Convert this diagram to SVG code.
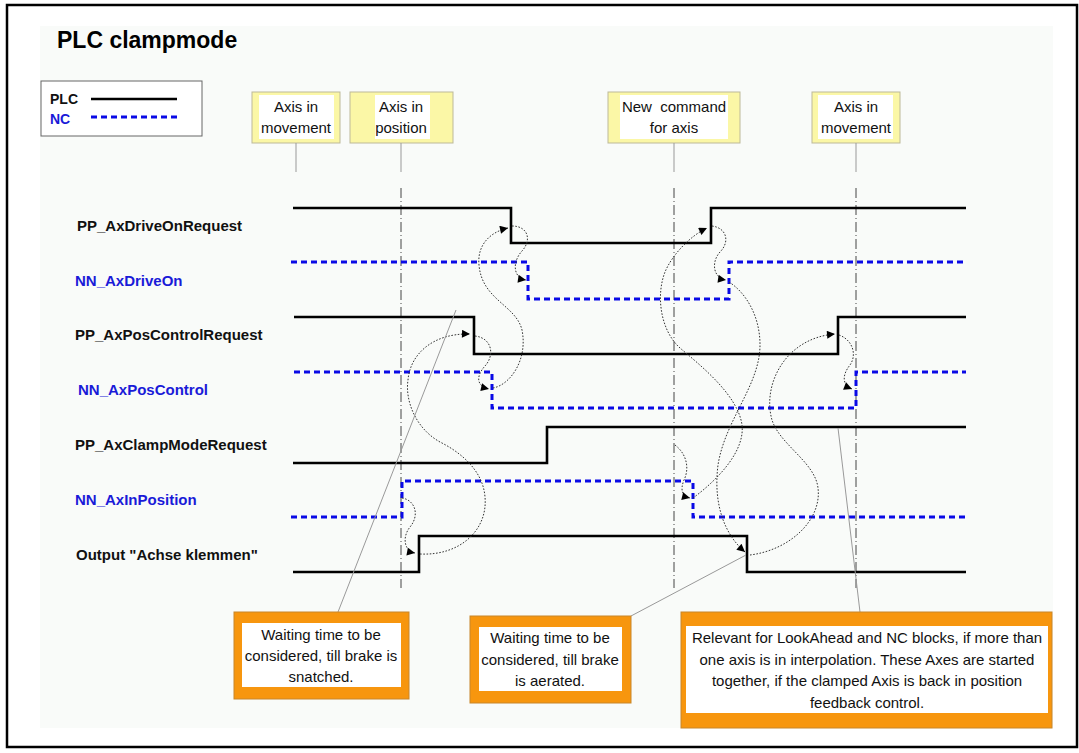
<svg xmlns="http://www.w3.org/2000/svg" width="1079" height="753" viewBox="0 0 1079 753">
  <style>
    text { font-family: "Liberation Sans", Arial, sans-serif; }
    .title { font-size: 23px; font-weight: bold; fill: #000; }
    .sig { font-size: 15px; font-weight: bold; fill: #111; }
    .sig-nc { font-size: 15px; font-weight: bold; fill: #1a1ad8; }
    .note { font-size: 15px; fill: #111; text-anchor: middle; }
    .plc { fill: none; stroke: #000; stroke-width: 2.6; }
    .nc { fill: none; stroke: #0a0ae6; stroke-width: 3; stroke-dasharray: 6 4; }
    .cause { fill: none; stroke: #333; stroke-width: 1; stroke-dasharray: 1.6 1.6; marker-end: url(#arrow); }
    .guide { fill: none; stroke: #444; stroke-width: 1; stroke-dasharray: 10 3 1 3; }
    .leader { fill: none; stroke: #999; stroke-width: 1; }
    .yel { fill: #fbf7a6; stroke: #bdb99a; stroke-width: 1; }
    .org { fill: #f7960e; stroke: #c8862a; stroke-width: 1; }
    .inner { fill: #fff; }
  </style>
  <defs>
    <marker id="arrow" viewBox="0 0 10 10" refX="10" refY="5" markerWidth="10" markerHeight="8" markerUnits="userSpaceOnUse" orient="auto">
      <path d="M0,0 L10,5 L0,10 z" fill="#000"/>
    </marker>
  </defs>

  <!-- frame and page -->
  <rect x="0" y="0" width="1079" height="753" fill="#fff"/>
  <rect x="7" y="5" width="1070" height="742" fill="#fff" stroke="#000" stroke-width="2.5"/>
  <rect x="40" y="26" width="1013" height="702" fill="#f9fbf9"/>

  <text class="title" x="57" y="48">PLC clampmode</text>

  <!-- legend -->
  <g id="legend">
    <rect x="41" y="81" width="161" height="55" fill="#fff" stroke="#666" stroke-width="1"/>
    <text class="sig" x="50" y="104" style="font-size:14px">PLC</text>
    <line class="plc" x1="91" y1="99" x2="177" y2="99"/>
    <text class="sig-nc" x="50" y="124" style="font-size:14px">NC</text>
    <line class="nc" x1="91" y1="117" x2="180" y2="117"/>
  </g>

  <!-- event callouts -->
  <g id="ev-movement1">
    <rect class="yel" x="252" y="92" width="88" height="51"/>
    <rect class="inner" x="259" y="95" width="75" height="44"/>
    <text class="note" x="296" y="112">Axis in</text>
    <text class="note" x="296" y="133">movement</text>
    <line class="leader" x1="296" y1="143" x2="296" y2="172"/>
  </g>
  <g id="ev-position">
    <rect class="yel" x="350" y="92" width="103" height="51"/>
    <rect class="inner" x="375" y="95" width="55" height="44"/>
    <text class="note" x="401" y="112">Axis in</text>
    <text class="note" x="401" y="133">position</text>
    <line class="leader" x1="401" y1="143" x2="401" y2="172"/>
  </g>
  <g id="ev-command">
    <rect class="yel" x="608" y="92" width="132" height="51"/>
    <rect class="inner" x="620" y="95" width="108" height="44"/>
    <text class="note" x="674" y="112" xml:space="preserve">New  command</text>
    <text class="note" x="674" y="133">for axis</text>
    <line class="leader" x1="674" y1="143" x2="674" y2="172"/>
  </g>
  <g id="ev-movement2">
    <rect class="yel" x="812" y="92" width="88" height="51"/>
    <rect class="inner" x="818" y="95" width="75" height="44"/>
    <text class="note" x="856" y="112">Axis in</text>
    <text class="note" x="856" y="133">movement</text>
    <line class="leader" x1="856" y1="143" x2="856" y2="172"/>
  </g>

  <!-- time markers -->
  <g id="time-markers">
    <line class="guide" x1="401" y1="188" x2="401" y2="588"/>
    <line class="guide" x1="674" y1="188" x2="674" y2="588"/>
    <line class="guide" x1="856" y1="188" x2="856" y2="588"/>
  </g>

  <!-- signal labels -->
  <g id="labels">
    <text class="sig" x="77" y="231">PP_AxDriveOnRequest</text>
    <text class="sig-nc" x="75" y="286">NN_AxDriveOn</text>
    <text class="sig" x="75" y="340">PP_AxPosControlRequest</text>
    <text class="sig-nc" x="78" y="395">NN_AxPosControl</text>
    <text class="sig" x="75" y="450">PP_AxClampModeRequest</text>
    <text class="sig-nc" x="75" y="505">NN_AxInPosition</text>
    <text class="sig" x="76" y="560">Output "Achse klemmen"</text>
  </g>

  <!-- signal traces -->
  <g id="signals">
    <polyline id="pp-driveon" class="plc" points="293,208 511,208 511,243 711,243 711,208 966,208"/>
    <polyline id="nn-driveon" class="nc" points="291,262 528,262 528,299 729,299 729,262 966,262"/>
    <polyline id="pp-poscontrol" class="plc" points="294,317 474,317 474,354 838,354 838,317 966,317"/>
    <polyline id="nn-poscontrol" class="nc" points="294,372 492,372 492,408 856,408 856,372 966,372"/>
    <polyline id="pp-clamp" class="plc" points="293,463 547,463 547,427 966,427"/>
    <polyline id="nn-inposition" class="nc" points="291,517 402,517 402,481 693,481 693,517 966,517"/>
    <polyline id="out-clamp" class="plc" points="293,572 419,572 419,536 747,536 747,572 966,572"/>
  </g>

  <!-- cause/effect connectors -->
  <g id="connectors">
    <path class="cause" d="M402,498 C415,500 420,515 410,527 C402,537 404,551 415,553"/>
    <path class="cause" d="M420,554 C460,556 488,530 485,497 C483,470 460,452 440,442 C415,428 405,400 408,380 C410,355 432,333 470,334"/>
    <path class="cause" d="M475,336 C492,338 495,355 485,366 C476,376 476,386 489,389"/>
    <path class="cause" d="M493,388 C510,385 528,360 522,330 C516,305 482,300 479,265 C477,245 490,232 508,228"/>
    <path class="cause" d="M512,226 C528,226 532,240 522,251 C512,262 513,278 526,280"/>

    <path class="cause" d="M675,445 C688,455 689,470 684,480 C680,490 682,496 690,498"/>
    <path class="cause" d="M693,498 C720,478 745,450 742,425 C738,395 700,365 680,348 C660,330 656,295 665,272 C672,255 690,236 707,228"/>
    <path class="cause" d="M712,226 C727,228 730,242 720,252 C711,262 713,278 726,280"/>
    <path class="cause" d="M729,282 C745,292 760,315 760,345 C760,385 725,420 718,465 C713,505 725,535 745,552"/>
    <path class="cause" d="M750,555 C790,550 822,520 818,488 C815,462 780,445 772,420 C762,385 785,338 835,334"/>
    <path class="cause" d="M839,335 C853,340 857,355 850,365 C842,375 842,385 852,389"/>
  </g>

  <!-- notes -->
  <g id="note-snatched">
    <line class="leader" x1="338" y1="612" x2="456" y2="310"/>
    <rect class="org" x="234" y="612" width="175" height="87"/>
    <rect class="inner" x="242" y="623" width="159" height="64"/>
    <text class="note" x="321" y="640">Waiting time to be</text>
    <text class="note" x="321" y="661">considered, till brake is</text>
    <text class="note" x="321" y="682">snatched.</text>
  </g>
  <g id="note-aerated">
    <line class="leader" x1="631" y1="616" x2="746" y2="555"/>
    <rect class="org" x="470" y="616" width="161" height="87"/>
    <rect class="inner" x="479" y="627" width="143" height="64"/>
    <text class="note" x="550" y="643">Waiting time to be</text>
    <text class="note" x="550" y="665">considered, till brake</text>
    <text class="note" x="550" y="686">is aerated.</text>
  </g>
  <g id="note-lookahead">
    <line class="leader" x1="860" y1="612" x2="838" y2="428"/>
    <rect class="org" x="681" y="612" width="371" height="116"/>
    <rect class="inner" x="686" y="626" width="362" height="87"/>
    <text class="note" x="867" y="643">Relevant for LookAhead and NC blocks, if more than</text>
    <text class="note" x="867" y="665">one axis is in interpolation. These Axes are started</text>
    <text class="note" x="867" y="686">together, if the clamped Axis is back in position</text>
    <text class="note" x="867" y="708">feedback control.</text>
  </g>
</svg>
